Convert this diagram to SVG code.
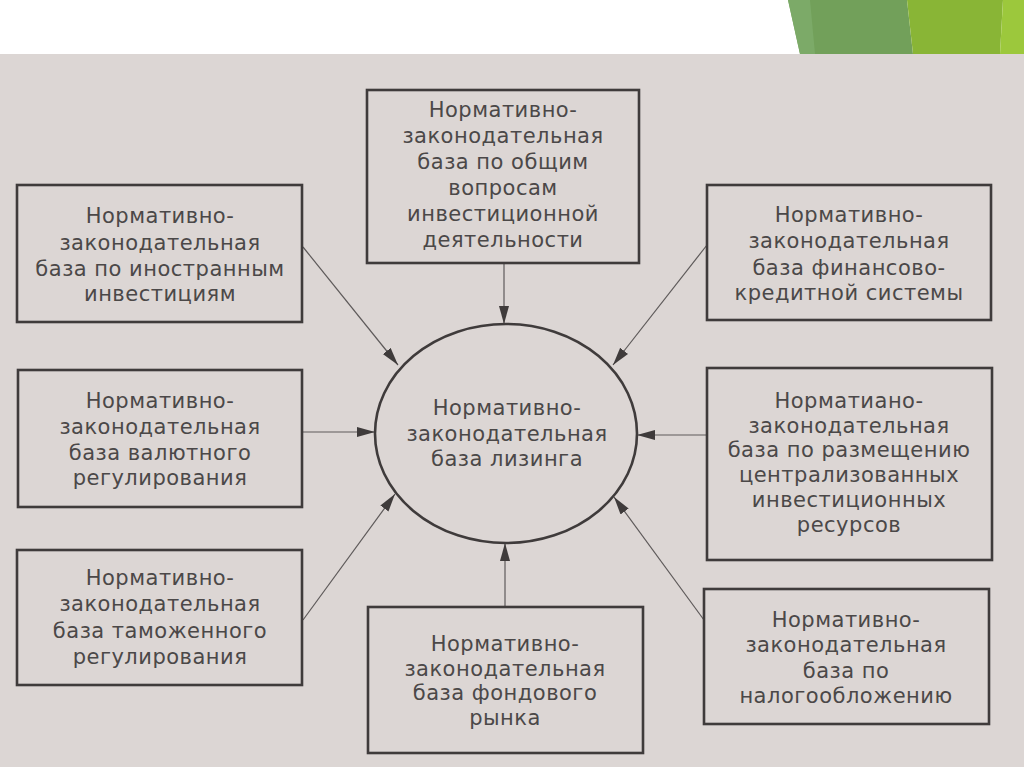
<svg xmlns="http://www.w3.org/2000/svg" width="1024" height="767" viewBox="0 0 1024 767">
<style>
.box{fill:none;stroke:#3f3b3b;stroke-width:2.6}
.t{font-family:"DejaVu Sans","Liberation Sans",sans-serif;font-size:21px;letter-spacing:0.5px;fill:#4b4848;text-anchor:middle}
.c{stroke:#5e5a5a;stroke-width:1.2;fill:none;marker-end:url(#ah)}
</style>
<defs>
<marker id="ah" markerUnits="userSpaceOnUse" markerWidth="20" markerHeight="12" refX="18" refY="5" orient="auto">
<path d="M0,0 L18,5 L0,10 z" fill="#3f3b3b"/>
</marker>
</defs>
<rect x="0" y="0" width="1024" height="767" fill="#ffffff"/>
<rect x="0" y="54" width="1024" height="713" fill="#dcd6d4"/>
<g id="decor">
<polygon points="788,0 907,0 913,54 800,54" fill="#72a05a"/>
<polygon points="788,0 810,0 815,54 800,54" fill="#7caa68"/>
<polygon points="907,0 1003,0 1000,54 913,54" fill="#89b536"/>
<polygon points="1003,0 1024,0 1024,54 1000,54" fill="#9cc83c"/>
</g>
<g id="connectors">
<line class="c" x1="504" y1="263" x2="504" y2="324"/>
<line class="c" x1="303" y1="247" x2="398" y2="365"/>
<line class="c" x1="707" y1="245" x2="613" y2="365"/>
<line class="c" x1="302" y1="432" x2="375" y2="432"/>
<line class="c" x1="707" y1="435" x2="637" y2="435"/>
<line class="c" x1="303" y1="620" x2="395" y2="494"/>
<line class="c" x1="704" y1="620" x2="614" y2="497"/>
<line class="c" x1="505" y1="607" x2="505" y2="543"/>
</g>
<g id="center">
<ellipse cx="506" cy="433.5" rx="131" ry="109.5" fill="none" stroke="#3f3b3b" stroke-width="2.6"/>
<text class="t" x="507" y="415">Нормативно-</text>
<text class="t" x="507" y="441">законодательная</text>
<text class="t" x="507" y="466">база лизинга</text>
</g>
<g id="top">
<rect class="box" x="367" y="90" width="272" height="173"/>
<text class="t" x="503" y="117">Нормативно-</text>
<text class="t" x="503" y="143">законодательная</text>
<text class="t" x="503" y="169">база по общим</text>
<text class="t" x="503" y="195">вопросам</text>
<text class="t" x="503" y="221">инвестиционной</text>
<text class="t" x="503" y="247">деятельности</text>
</g>
<g id="left1">
<rect class="box" x="17" y="185" width="285" height="137"/>
<text class="t" x="160" y="223">Нормативно-</text>
<text class="t" x="160" y="250">законодательная</text>
<text class="t" x="160" y="276">база по иностранным</text>
<text class="t" x="160" y="301">инвестициям</text>
</g>
<g id="left2">
<rect class="box" x="18" y="370" width="284" height="137"/>
<text class="t" x="160" y="408">Нормативно-</text>
<text class="t" x="160" y="434">законодательная</text>
<text class="t" x="160" y="460">база валютного</text>
<text class="t" x="160" y="485">регулирования</text>
</g>
<g id="left3">
<rect class="box" x="17" y="550" width="285" height="135"/>
<text class="t" x="160" y="585">Нормативно-</text>
<text class="t" x="160" y="611">законодательная</text>
<text class="t" x="160" y="638">база таможенного</text>
<text class="t" x="160" y="664">регулирования</text>
</g>
<g id="right1">
<rect class="box" x="707" y="185" width="284" height="135"/>
<text class="t" x="849" y="222">Нормативно-</text>
<text class="t" x="849" y="248">законодательная</text>
<text class="t" x="849" y="275">база финансово-</text>
<text class="t" x="849" y="300">кредитной системы</text>
</g>
<g id="right2">
<rect class="box" x="707" y="368" width="285" height="192"/>
<text class="t" x="849" y="408">Норматиано-</text>
<text class="t" x="849" y="433">законодательная</text>
<text class="t" x="849" y="457">база по размещению</text>
<text class="t" x="849" y="482">централизованных</text>
<text class="t" x="849" y="507">инвестиционных</text>
<text class="t" x="849" y="532">ресурсов</text>
</g>
<g id="right3">
<rect class="box" x="704" y="589" width="285" height="135"/>
<text class="t" x="846" y="627">Нормативно-</text>
<text class="t" x="846" y="652">законодательная</text>
<text class="t" x="846" y="678">база по</text>
<text class="t" x="846" y="703">налогообложению</text>
</g>
<g id="bottom">
<rect class="box" x="368" y="607" width="275" height="146"/>
<text class="t" x="505" y="651">Нормативно-</text>
<text class="t" x="505" y="676">законодательная</text>
<text class="t" x="505" y="700">база фондового</text>
<text class="t" x="505" y="725">рынка</text>
</g>
</svg>
